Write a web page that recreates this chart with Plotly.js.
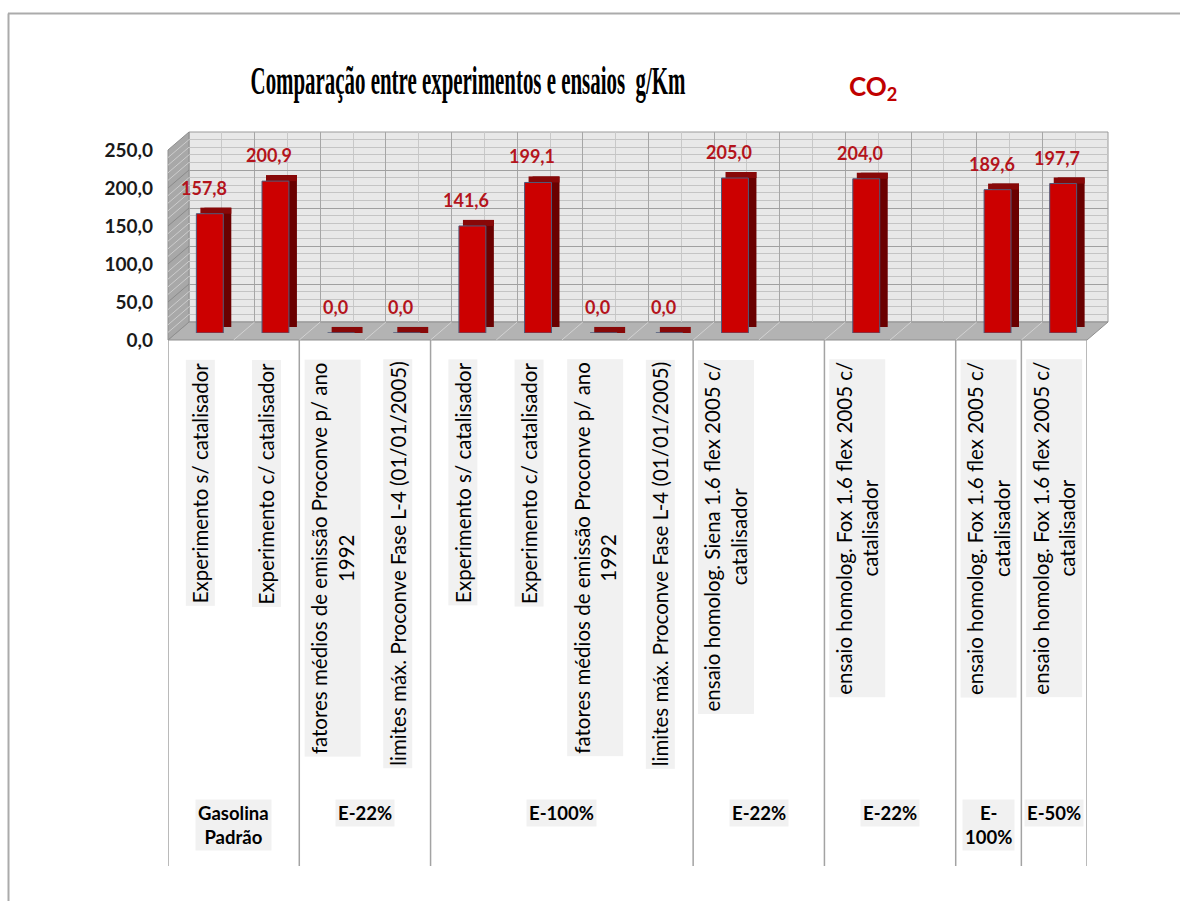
<!DOCTYPE html>
<html>
<head>
<meta charset="utf-8">
<script src="https://cdn.plot.ly/plotly-3.0.1.min.js"></script>
<style>html,body{margin:0;padding:0;background:#fff;}</style>
</head>
<body>
<div id="chart" style="width:1180px;height:901px;"></div>
<script>
// ---------------- data ----------------
const categories = [
  'Experimento s/ catalisador',
  'Experimento c/ catalisador',
  'fatores médios de emissão Proconve p/ ano<br>1992',
  'limites máx. Proconve Fase L-4 (01/01/2005)',
  'Experimento s/ catalisador',
  'Experimento c/ catalisador',
  'fatores médios de emissão Proconve p/ ano<br>1992',
  'limites máx. Proconve Fase L-4 (01/01/2005)',
  'ensaio homolog. Siena 1.6 flex 2005 c/<br>catalisador',
  '',
  'ensaio homolog. Fox 1.6 flex 2005 c/<br>catalisador',
  '',
  'ensaio homolog. Fox 1.6 flex 2005 c/<br>catalisador',
  'ensaio homolog. Fox 1.6 flex 2005 c/<br>catalisador'
];
const co2Values = [157.8, 200.9, 0.0, 0.0, 141.6, 199.1, 0.0, 0.0, 205.0, null, 204.0, null, 189.6, 197.7];
const groupLabels = ['Gasolina<br>Padrão', 'E-22%', 'E-100%', 'E-22%', 'E-22%', 'E-<br>100%', 'E-50%'];
const groupSizes = [2, 2, 4, 2, 2, 1, 1];
const yTickValues = [0, 50, 100, 150, 200, 250];
const chartTitle = 'Comparação entre experimentos e ensaios  g/Km';
const gasLabel = 'CO<sub>2</sub>';

// ---------------- geometry helpers (pixels -> paper) ----------------
const W = 1180, H = 901;
const px = v => v / W;
const py = v => 1 - v / H;
const FRONT = {l: 168, r: 1087, y0: 340, yTop: 150};
const WALL = {l: 189, r: 1108, y0: 322, yTop: 132};
const BARS = {l: 177, r: 1096, y0: 333, yTop: 144};
const YMAX = 250;
const nSlots = categories.length;
const slots = categories.map((_, i) => i);
const xRange = [-0.5, nSlots - 0.5];

const CAP = 8;               // visual depth of the bar top (in value units)
const BAR_W = 0.41;
const capHeights = co2Values.map(v => v === null ? null : CAP);

const data = [
  // invisible anchors for the wall and front planes
  {type: 'scatter', x: [], y: [], xaxis: 'x', yaxis: 'y', showlegend: false, hoverinfo: 'skip'},
  {type: 'scatter', x: [], y: [], xaxis: 'x2', yaxis: 'y2', showlegend: false, hoverinfo: 'skip'},
  // side face (back block)
  {type: 'bar', x: slots, y: co2Values, base: CAP, width: BAR_W, offset: -BAR_W / 2 + 0.122,
   xaxis: 'x3', yaxis: 'y3', marker: {color: '#6a0000', line: {width: 0}}, showlegend: false, hoverinfo: 'skip'},
  // top face
  {type: 'bar', x: slots, y: capHeights, base: co2Values, width: BAR_W + 0.061, offset: -BAR_W / 2 + 0.061,
   xaxis: 'x3', yaxis: 'y3', marker: {color: '#880808', line: {width: 0}}, showlegend: false, hoverinfo: 'skip'},
  // front face
  {type: 'bar', x: slots, y: co2Values, width: BAR_W, offset: -BAR_W / 2,
   xaxis: 'x3', yaxis: 'y3', marker: {color: '#cc0000', line: {color: '#4f5a7a', width: 1}},
   name: 'CO2', showlegend: false}
];

// ---------------- shapes (chart furniture) ----------------
const shapes = [];
// outer frame (top and left)
shapes.push({type: 'line', xref: 'paper', yref: 'paper', x0: px(8), x1: 1, y0: py(13.5), y1: py(13.5), line: {color: '#ababab', width: 2}, layer: 'below'});
shapes.push({type: 'line', xref: 'paper', yref: 'paper', x0: px(8.5), x1: px(8.5), y0: 0, y1: py(13.5), line: {color: '#ababab', width: 2}, layer: 'below'});
// back wall
shapes.push({type: 'rect', xref: 'paper', yref: 'paper', x0: px(WALL.l), x1: px(WALL.r), y0: py(WALL.y0), y1: py(WALL.yTop),
  fillcolor: '#e8e8e8', line: {color: '#9a9a9a', width: 1}, layer: 'below'});
// floor
shapes.push({type: 'path', xref: 'paper', yref: 'paper',
  path: `M ${px(FRONT.l)} ${py(FRONT.y0)} L ${px(FRONT.r)} ${py(FRONT.y0)} L ${px(WALL.r)} ${py(WALL.y0)} L ${px(WALL.l)} ${py(WALL.y0)} Z`,
  fillcolor: '#b3b3b3', line: {color: '#8f8f8f', width: 1}, layer: 'below'});
// side wall
shapes.push({type: 'path', xref: 'paper', yref: 'paper',
  path: `M ${px(FRONT.l)} ${py(FRONT.y0)} L ${px(FRONT.l)} ${py(FRONT.yTop)} L ${px(WALL.l)} ${py(WALL.yTop)} L ${px(WALL.l)} ${py(WALL.y0)} Z`,
  fillcolor: '#a8a8a8', line: {color: '#8f8f8f', width: 1}, layer: 'below'});
for (let v = 10; v < YMAX; v += 10) {
  const yf = FRONT.y0 - (FRONT.y0 - FRONT.yTop) * v / YMAX;
  const yb = WALL.y0 - (WALL.y0 - WALL.yTop) * v / YMAX;
  shapes.push({type: 'line', xref: 'paper', yref: 'paper', x0: px(FRONT.l), x1: px(WALL.l), y0: py(yf), y1: py(yb),
    line: {color: v % 50 === 0 ? '#8a8a8a' : '#cdcdcd', width: 1}, layer: 'below'});
}
// floor divisions
const slotPx = (FRONT.r - FRONT.l) / nSlots;
for (let k = 1; k < nSlots; k++) {
  const xf = FRONT.l + k * slotPx;
  shapes.push({type: 'line', xref: 'paper', yref: 'paper', x0: px(xf), x1: px(xf + (WALL.l - FRONT.l)), y0: py(FRONT.y0), y1: py(WALL.y0),
    line: {color: '#d2d2d2', width: 1}, layer: 'below'});
}
// group separators (category axis)
let start = 0;
const bounds = [-0.5];
groupSizes.forEach(s => { start += s; bounds.push(start - 0.5); });
bounds.forEach(b => {
  shapes.push({type: 'line', xref: 'x2', yref: 'paper', x0: b, x1: b, y0: py(866), y1: py(FRONT.y0),
    line: {color: '#a3a3a3', width: 1.5}, layer: 'below'});
});

// ---------------- annotations ----------------
const annotations = [];
const fmt = v => v.toFixed(1).replace('.', ',');
co2Values.forEach((v, i) => {
  if (v === null) return;
  annotations.push({xref: 'x3', yref: 'y3', x: i, y: v, text: fmt(v), showarrow: false,
    xanchor: 'center', yanchor: 'middle', xshift: -6, yshift: 26,
    font: {family: 'Lato, Open Sans, sans-serif', size: 18, color: '#b4141c', weight: 700}});
});
categories.forEach((c, i) => {
  if (!c) return;
  annotations.push({xref: 'x2', yref: 'paper', x: i, y: py(359), text: c, showarrow: false,
    textangle: -90, xanchor: 'center', yanchor: 'top', align: 'center',
    bgcolor: '#f1f1f1', borderpad: 2,
    font: {family: 'Lato, Open Sans, sans-serif', size: 20.5, color: '#000'}});
});
let gs = 0;
groupLabels.forEach((g, k) => {
  const center = gs + (groupSizes[k] - 1) / 2;
  gs += groupSizes[k];
  annotations.push({xref: 'x2', yref: 'paper', x: center, y: py(799), text: g, showarrow: false,
    xanchor: 'center', yanchor: 'top', align: 'center', bgcolor: '#f1f1f1', borderpad: 2,
    font: {family: 'Lato, Open Sans, sans-serif', size: 18.5, color: '#000', weight: 700}});
});
annotations.push({xref: 'paper', yref: 'paper', x: px(873), y: py(87), text: gasLabel, showarrow: false,
  xanchor: 'center', yanchor: 'middle',
  font: {family: 'Lato, Open Sans, sans-serif', size: 26, color: '#c00000', weight: 700}});

// ---------------- layout ----------------
const hidden = {showgrid: false, zeroline: false, showline: false, showticklabels: false, ticks: '', fixedrange: true};
const layout = {
  width: W, height: H,
  margin: {l: 0, r: 0, t: 0, b: 0},
  paper_bgcolor: '#ffffff',
  plot_bgcolor: 'rgba(0,0,0,0)',
  separators: ',.',
  showlegend: false,
  barmode: 'overlay',
  title: {text: chartTitle, x: px(468), xanchor: 'center', xref: 'paper', y: py(80), yanchor: 'middle', yref: 'paper',
    font: {family: 'Liberation Serif, Times New Roman, serif', size: 40, color: '#000', weight: 700}},
  // back wall plane
  xaxis: Object.assign({}, hidden, {domain: [px(WALL.l), px(WALL.r)], range: xRange, anchor: 'y',
    showgrid: true, tickmode: 'linear', tick0: 0.5, dtick: 1, gridcolor: '#a6a6a6', gridwidth: 1,
    minor: {tickmode: 'linear', tick0: 0, dtick: 0.5, showgrid: true, gridcolor: '#c8c8c8', gridwidth: 1}}),
  yaxis: Object.assign({}, hidden, {domain: [py(WALL.y0), py(WALL.yTop)], range: [0, YMAX], anchor: 'x',
    showgrid: true, tickmode: 'linear', tick0: 0, dtick: 50, gridcolor: '#a0a0a0', gridwidth: 1,
    minor: {tickmode: 'linear', tick0: 0, dtick: 10, showgrid: true, gridcolor: '#c4c4c4', gridwidth: 1}}),
  // front plane (value axis labels, category positions)
  xaxis2: Object.assign({}, hidden, {domain: [px(FRONT.l), px(FRONT.r)], range: xRange, anchor: 'y2'}),
  yaxis2: {domain: [py(FRONT.y0), py(FRONT.yTop)], range: [0, YMAX], anchor: 'x2',
    tickmode: 'array', tickvals: yTickValues, tickformat: '.1f', ticks: '', showgrid: false, zeroline: false, showline: false,
    ticklabelstandoff: 14, fixedrange: true,
    tickfont: {family: 'Lato, Open Sans, sans-serif', size: 19, color: '#1a1a1a', weight: 700}},
  // bar plane (mid depth)
  xaxis3: Object.assign({}, hidden, {domain: [px(BARS.l), px(BARS.r)], range: xRange, anchor: 'y3'}),
  yaxis3: Object.assign({}, hidden, {domain: [py(BARS.y0), py(BARS.yTop)], range: [0, YMAX], anchor: 'x3'}),
  shapes: shapes,
  annotations: annotations
};

function condenseTitle(gd) {
  const t = gd.querySelector('.gtitle');
  if (!t || t.getAttribute('data-cond')) return;
  const bb = t.getBBox();
  if (!bb.width) return;
  const s = 435 / bb.width;
  const cx = bb.x + bb.width / 2;
  t.setAttribute('transform', `translate(${cx},0) scale(${s},1) translate(${-cx},0)`);
  t.setAttribute('data-cond', '1');
}

Plotly.newPlot('chart', data, layout, {displayModeBar: false, staticPlot: true}).then(gd => {
  condenseTitle(gd);
  gd.on('plotly_afterplot', () => condenseTitle(gd));
});
</script>
</body>
</html>
